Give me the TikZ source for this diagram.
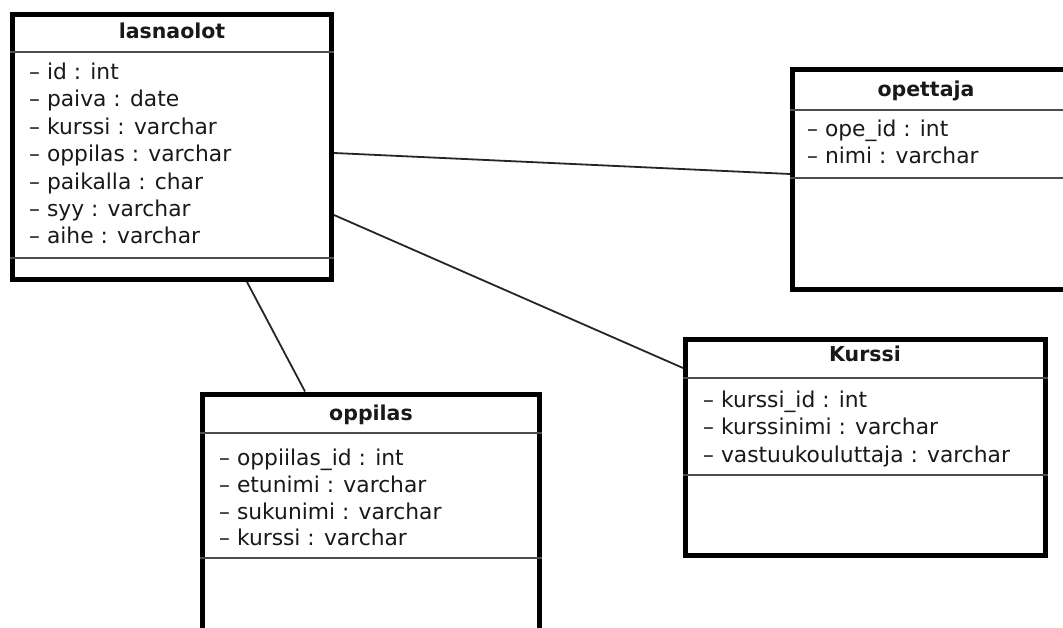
\documentclass[tikz,border=0pt]{standalone}
\usepackage{fontspec}
\setmainfont{DejaVu Sans}
\begin{document}
\begin{tikzpicture}[x=1pt,y=-1pt,
  umlbox/.style={draw=black, line width=5pt, fill=white, rectangle, inner sep=0pt},
  sep/.style={draw=black!70, line width=1.6pt},
  title/.style={font=\bfseries\fontsize{20.5}{24}\selectfont, anchor=base, inner sep=0pt, text=black!90},
  attr/.style={font=\fontsize{21.8}{24}\selectfont, anchor=base west, inner sep=0pt, text=black!90},
  conn/.style={draw=black!85, line width=1.8pt}]
\useasboundingbox (0,0) rectangle (1063,628);
\clip (0,0) rectangle (1063,628);
% lasnaolot
\node[umlbox, minimum width=319pt, minimum height=265pt] (las) at (172,147) {};
\draw[sep] (las.west |- 0,52) -- (las.east |- 0,52);
\draw[sep] (las.west |- 0,258) -- (las.east |- 0,258);
\node[title] (lasT) at (172,39) {lasnaolot};
\node[attr] (l1) at (29,80) {– id : int};
\node[attr] (l2) at (29,107) {– paiva : date};
\node[attr] (l3) at (29,135) {– kurssi : varchar};
\node[attr] (l4) at (29,162) {– oppilas : varchar};
\node[attr] (l5) at (29,190) {– paikalla : char};
\node[attr] (l6) at (29,217) {– syy : varchar};
\node[attr] (l7) at (29,244) {– aihe : varchar};
% opettaja
\node[umlbox, minimum width=315pt, minimum height=220pt] (ope) at (950,179.5) {};
\draw[sep] (ope.west |- 0,110) -- (ope.east |- 0,110);
\draw[sep] (ope.west |- 0,178) -- (ope.east |- 0,178);
\node[title] (opeT) at (926,97) {opettaja};
\node[attr] (o1) at (807,137) {– ope\_id : int};
\node[attr] (o2) at (807,164) {– nimi : varchar};
% oppilas
\node[umlbox, minimum width=337pt, minimum height=270pt] (opp) at (371,529) {};
\draw[sep] (opp.west |- 0,433) -- (opp.east |- 0,433);
\draw[sep] (opp.west |- 0,558) -- (opp.east |- 0,558);
\node[title] (oppT) at (371,420) {oppilas};
\node[attr] (p1) at (219,465) {– oppiilas\_id : int};
\node[attr] (p2) at (219,492) {– etunimi : varchar};
\node[attr] (p3) at (219,519) {– sukunimi : varchar};
\node[attr] (p4) at (219,545) {– kurssi : varchar};
% Kurssi
\node[umlbox, minimum width=360pt, minimum height=216pt] (kur) at (865.5,447.5) {};
\draw[sep] (kur.west |- 0,378) -- (kur.east |- 0,378);
\draw[sep] (kur.west |- 0,475) -- (kur.east |- 0,475);
\node[title] (kurT) at (865,362) {Kurssi};
\node[attr] (k1) at (703,407) {– kurssi\_id : int};
\node[attr] (k2) at (703,434) {– kurssinimi : varchar};
\node[attr] (k3) at (703,462) {– vastuukouluttaja : varchar};
% connectors
\draw[conn] (las.east |- 0,153) -- (ope.west |- 0,174);
\draw[conn] (las.east |- 0,215) -- (kur.west |- 0,368);
\draw[conn] (las.south -| 247,0) -- (opp.north -| 305,0);
\end{tikzpicture}
\end{document}
